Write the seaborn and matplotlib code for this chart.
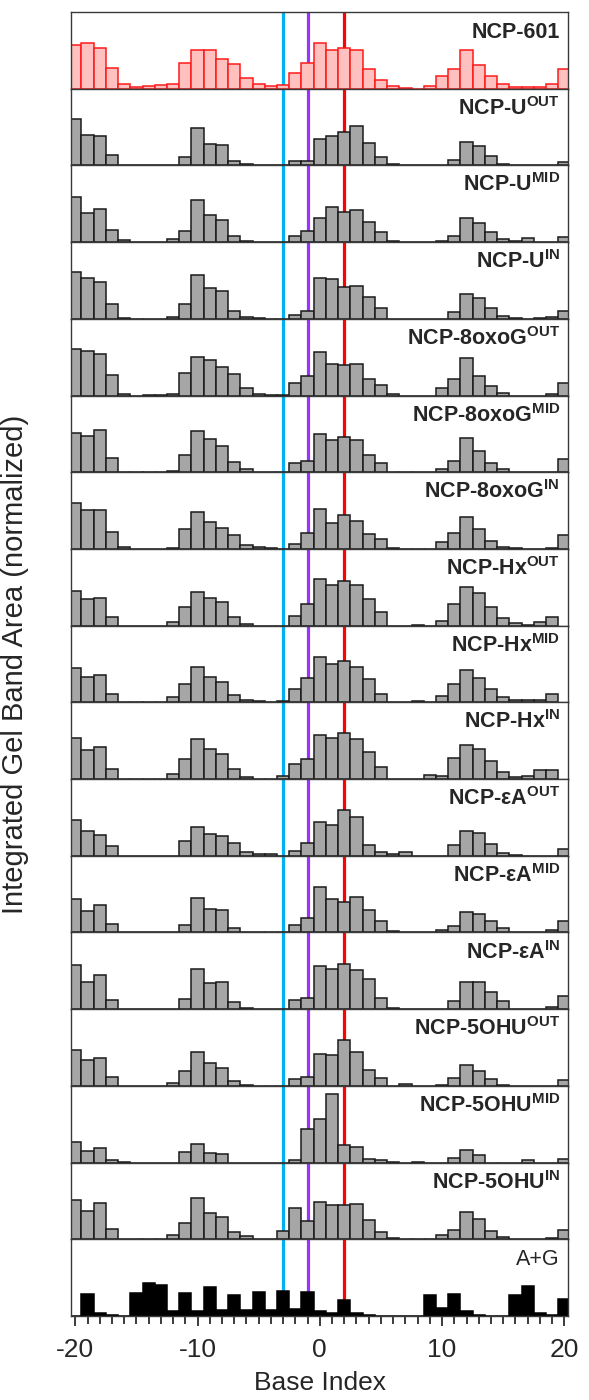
import numpy as np
import pandas as pd
import seaborn as sns
from matplotlib import pyplot as plt
from matplotlib.ticker import MultipleLocator

# base positions relative to the lesion site
base_index = np.arange(-20, 21)

# integrated band areas (arbitrary units, same scale in every panel), -20 ... 20
ncp_601 = [130, 136, 123, 63, 15, 6, 8, 10, 15, 76, 116, 116, 88, 73, 32, 15, 9, 11, 46, 77,
           138, 116, 121, 115, 59, 26, 7, 1, 0, 7, 38, 60, 115, 71, 37, 13, 6, 6, 6, 13, 59]
u_out = [138, 91, 88, 30, 0, 0, 0, 0, 0, 26, 112, 65, 61, 12, 3, 0, 0, 0, 12, 13,
         80, 88, 101, 118, 68, 25, 3, 0, 0, 0, 0, 15, 69, 59, 29, 3, 0, 0, 0, 0, 11]
u_mid = [135, 87, 99, 35, 5, 0, 0, 0, 8, 34, 125, 81, 67, 18, 2, 0, 0, 0, 18, 34,
         73, 106, 89, 96, 59, 31, 3, 0, 0, 0, 3, 17, 71, 57, 29, 8, 2, 12, 0, 0, 15]
u_in = [139, 121, 111, 45, 2, -3, 0, 0, 4, 43, 131, 93, 84, 24, 5, 2, 0, -3, 12, 24,
        123, 120, 95, 99, 66, 33, 0, 0, 0, 0, 0, 21, 73, 63, 31, 8, 2, 0, 2, 5, 22]
oxog_out = [139, 133, 124, 61, 6, 0, 2, 2, 6, 68, 115, 106, 86, 64, 23, 6, 3, 2, 38, 60,
            131, 94, 91, 96, 49, 33, 5, -1, -1, 0, 22, 50, 112, 59, 29, 8, 0, 0, 0, 5, 38]
oxog_mid = [118, 109, 128, 42, 2, -2, -1, 0, 3, 51, 125, 101, 79, 32, 11, 0, 0, -4, 27, 35,
            114, 96, 107, 98, 51, 29, 0, -2, 2, 0, 9, 33, 102, 65, 27, 9, 0, 0, 0, 0, 39]
oxog_in = [137, 116, 117, 51, 5, 1, 0, 0, 4, 60, 111, 82, 63, 41, 13, 5, 4, 0, 16, 47,
           120, 79, 101, 84, 44, 31, 4, 1, -2, 0, 22, 47, 97, 59, 23, 6, 3, 1, 1, 3, 41]
hx_out = [104, 80, 83, 27, 0, -2, -2, -2, 10, 57, 102, 83, 72, 27, 5, 0, 0, -3, 29, 64,
          139, 123, 134, 123, 80, 41, 0, 0, 3, 0, 14, 64, 115, 99, 55, 23, 8, 3, 11, 25, np.nan]
hx_mid = [102, 76, 81, 26, 0, -2, -2, 0, 15, 54, 107, 75, 60, 23, 7, 3, 2, 3, 39, 73,
          137, 115, 123, 106, 71, 26, 2, 0, 3, 0, 19, 54, 96, 74, 39, 15, 8, 7, 7, 26, np.nan]
hx_in = [122, 88, 95, 31, 0, -2, 0, -2, 15, 61, 120, 89, 76, 30, 6, 1, -2, 8, 46, 59,
         133, 124, 138, 121, 81, 36, 0, 0, 0, 12, 9, 64, 102, 90, 54, 22, 6, 8, 26, 26, np.nan]
ea_out = [108, 75, 61, 29, 0, 0, 0, 0, 0, 43, 86, 66, 59, 38, 10, 4, 4, 0, 14, 37,
          100, 92, 138, 116, 33, 11, 4, 12, 0, 0, 0, 31, 75, 67, 35, 8, 2, 0, 0, 0, 20]
ea_mid = [101, 63, 81, 26, 0, 0, 0, 0, 0, 23, 103, 70, 66, 14, 2, 0, -2, 0, 22, 43,
          137, 101, 92, 105, 68, 34, 3, 0, 0, 0, 6, 20, 61, 54, 35, 12, 0, 0, 0, 6, 34]
ea_in = [131, 81, 101, 28, 2, 0, 0, 0, 0, 31, 121, 78, 82, 23, 3, 0, 0, 0, 28, 33,
         129, 120, 135, 116, 91, 33, 4, 2, 0, 2, 0, 24, 81, 81, 53, 26, 2, 0, 0, 6, 41]
ohu_out = [108, 78, 83, 27, 0, 0, 0, 0, 10, 44, 103, 69, 55, 16, 4, -2, 0, -2, 22, 27,
           97, 93, 138, 102, 47, 24, 0, 7, 1, 0, 3, 23, 62, 46, 20, 3, 0, 0, 0, 0, 17]
ohu_mid = [62, 36, 45, 7, 2, 0, -2, 0, 0, 32, 55, 29, 25, 0, 0, -2, -2, 0, 9, 102,
           132, 207, 53, 48, 12, 7, 2, 0, 2, -2, 0, 14, 39, 22, -3, 0, 0, 7, -2, 0, 12]
ohu_in = [119, 86, 110, 32, 0, 0, -2, 0, 14, 50, 124, 80, 68, 23, 11, 2, 0, 25, 93, 55,
          112, 102, 102, 105, 58, 23, 3, 1, -1, 0, 14, 27, 83, 60, 25, 8, 2, 0, 1, 5, 27]
a_plus_g = [0, 66, 10, 4, 0, 70, 98, 92, 14, 69, 15, 86, 18, 62, 17, 73, 19, 74, 20, 73,
            16, 10, 49, 10, 4, 1, 0, 0, 0, 62, 24, 67, 16, 2, -2, 0, 62, 89, 9, 4, 52]

labels = ["NCP-601",
          r"NCP-U$^{\mathbf{OUT}}$", r"NCP-U$^{\mathbf{MID}}$", r"NCP-U$^{\mathbf{IN}}$",
          r"NCP-8oxoG$^{\mathbf{OUT}}$", r"NCP-8oxoG$^{\mathbf{MID}}$", r"NCP-8oxoG$^{\mathbf{IN}}$",
          r"NCP-Hx$^{\mathbf{OUT}}$", r"NCP-Hx$^{\mathbf{MID}}$", r"NCP-Hx$^{\mathbf{IN}}$",
          r"NCP-εA$^{\mathbf{OUT}}$", r"NCP-εA$^{\mathbf{MID}}$", r"NCP-εA$^{\mathbf{IN}}$",
          r"NCP-5OHU$^{\mathbf{OUT}}$", r"NCP-5OHU$^{\mathbf{MID}}$", r"NCP-5OHU$^{\mathbf{IN}}$",
          "A+G"]
series = [ncp_601, u_out, u_mid, u_in, oxog_out, oxog_mid, oxog_in,
          hx_out, hx_mid, hx_in, ea_out, ea_mid, ea_in,
          ohu_out, ohu_mid, ohu_in, a_plus_g]

# reference positions marked by vertical lines
marker_pos = [-3, -1, 2]
marker_colors = ['#00b0f0', '#9933ff', '#ff0000']

sns.set_style('ticks')
plt.rcParams['font.family'] = ['Liberation Sans', 'DejaVu Sans']
plt.rcParams['mathtext.fontset'] = 'custom'
plt.rcParams['mathtext.rm'] = 'Liberation Sans'
plt.rcParams['mathtext.bf'] = 'Liberation Sans:bold'
plt.rcParams['axes.unicode_minus'] = False

fig, axes = plt.subplots(len(series), 1, figsize=(5.89, 14.0), dpi=100, sharex=True,
                         gridspec_kw={'hspace': 0})
fig.subplots_adjust(left=71 / 589, right=568 / 589, top=1 - 12 / 1400, bottom=1 - 1316 / 1400)

for i, (ax, vals, label) in enumerate(zip(axes, series, labels)):
    df = pd.DataFrame({'base': base_index, 'area': vals}).dropna()
    if i == 0:
        fill, edge = '#ffc0c0', '#ff1a1a'
    elif label == 'A+G':
        fill, edge = 'black', 'black'
    else:
        fill, edge = '#a6a6a6', '#1a1a1a'

    for x, c in zip(marker_pos, marker_colors):
        ax.axvline(x, color=c, lw=2.3, zorder=1)

    sns.barplot(data=df, x='base', y='area', native_scale=True, width=1.0, color=fill,
                saturation=1, edgecolor=edge, linewidth=1.1, errorbar=None, ax=ax, zorder=3)

    ax.set_ylim(0, 230)
    ax.set_yticks([])
    ax.set_ylabel('')
    ax.set_xlabel('')
    for s in ax.spines.values():
        s.set_color('#3a3a3a')
        s.set_linewidth(1.0)
        s.set_zorder(4)

    weight = 'normal' if label == 'A+G' else 'bold'
    ax.text(0.984, 0.66, label, transform=ax.transAxes, ha='right', va='baseline',
            fontsize=15.5, fontweight=weight)
    if i < len(series) - 1:
        ax.tick_params(axis='x', which='both', bottom=False, labelbottom=False)

bottom = axes[-1]
bottom.set_xlim(-20.35, 20.3)
bottom.set_xticks([-20, -10, 0, 10, 20])
bottom.xaxis.set_minor_locator(MultipleLocator(1))
bottom.tick_params(axis='x', which='major', direction='out', length=7, width=1.2,
                   labelsize=19, pad=9, color='#1a1a1a')
bottom.tick_params(axis='x', which='minor', direction='out', length=6, width=1.2, color='#1a1a1a')
bottom.set_xlabel('Base Index', fontsize=19, labelpad=6)

fig.text(15 / 589, 1 - 664 / 1400, 'Integrated Gel Band Area (normalized)', rotation=90,
         ha='center', va='center', fontsize=21)

plt.savefig('out.png', dpi=100)
